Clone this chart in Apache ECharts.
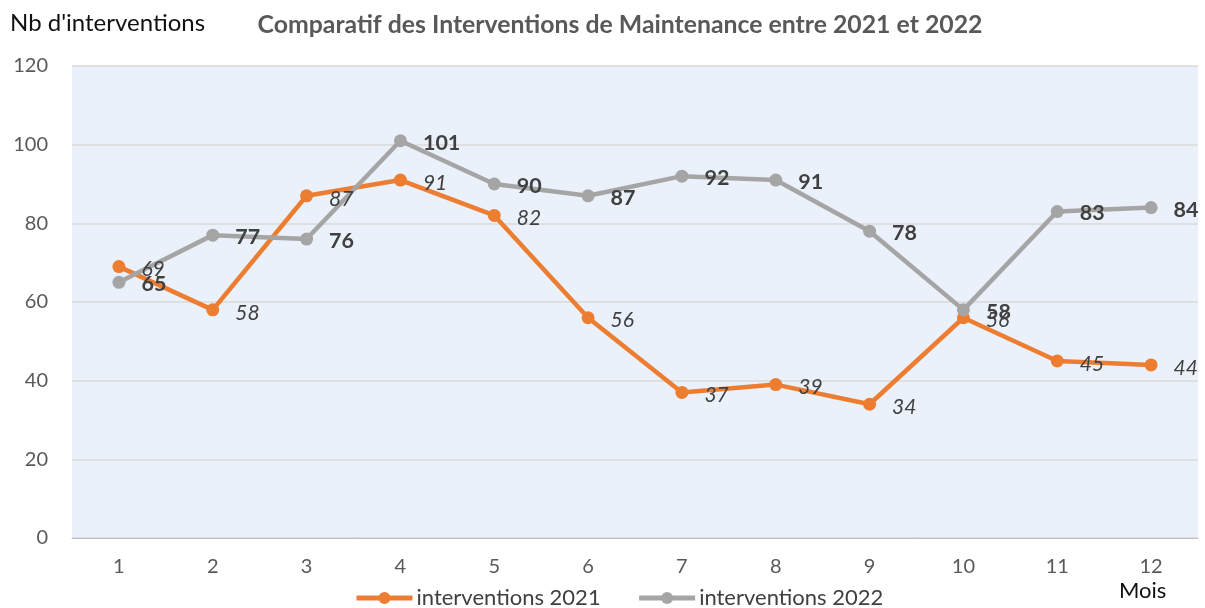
<!DOCTYPE html>
<html>
<head>
<meta charset="utf-8">
<script src="https://cdn.jsdelivr.net/npm/echarts@6/dist/echarts.min.js"></script>
<style>
  html, body { margin: 0; padding: 0; background: #fff; }
  #chart { width: 1205px; height: 608px; }
</style>
</head>
<body>
<div id="chart"></div>
<script>
// Monthly maintenance interventions, 2021 vs 2022
const months = ['1', '2', '3', '4', '5', '6', '7', '8', '9', '10', '11', '12'];
const interventions2021 = [69, 58, 87, 91, 82, 56, 37, 39, 34, 56, 45, 44];
const interventions2022 = [65, 77, 76, 101, 90, 87, 92, 91, 78, 58, 83, 84];
const yTicks = { min: 0, max: 120, interval: 20 };

const FONT = 'Lato, "Open Sans", sans-serif';
const chart = echarts.init(document.getElementById('chart'));

chart.setOption({
  animation: false,
  textStyle: { fontFamily: FONT },
  title: {
    text: 'Comparatif des Interventions de Maintenance entre 2021 et 2022',
    left: 615, top: 8, textAlign: 'center',
    textStyle: { fontFamily: FONT, fontSize: 24.8, fontWeight: 'bold', color: '#595959' }
  },
  graphic: [
    { type: 'text', left: 10, top: 11,
      style: { text: "Nb d'interventions", font: '24px ' + FONT, fill: '#111' } },
    { type: 'text', left: 1119, top: 580,
      style: { text: 'Mois', font: '22px ' + FONT, fill: '#111' } }
  ],
  legend: {
    top: 582, left: 349, itemGap: 36, padding: 5,
    itemWidth: 56, itemHeight: 15,
    lineStyle: { width: 5 },
    textStyle: { fontFamily: FONT, fontSize: 22, color: '#404040', padding: [0, 0, 0, -1] },
    data: ['interventions 2021', 'interventions 2022']
  },
  grid: {
    left: 72, right: 7, top: 66, bottom: 70,
    show: true, backgroundColor: '#EAF1FA', borderWidth: 0
  },
  xAxis: {
    type: 'category', data: months, boundaryGap: true,
    axisLine: { lineStyle: { color: '#bfbfbf', width: 1 } },
    axisTick: { show: false },
    axisLabel: { fontFamily: FONT, fontSize: 20, color: '#595959', margin: 19 }
  },
  yAxis: {
    type: 'value', min: yTicks.min, max: yTicks.max, interval: yTicks.interval,
    axisLine: { show: false }, axisTick: { show: false },
    splitLine: { lineStyle: { color: '#d9d9d9', width: 1.5 } },
    axisLabel: { fontFamily: FONT, fontSize: 20, color: '#595959', margin: 24 }
  },
  series: [
    {
      name: 'interventions 2021', type: 'line', data: interventions2021,
      symbol: 'circle', symbolSize: 13,
      lineStyle: { color: '#ED7D31', width: 4.5 },
      itemStyle: { color: '#ED7D31' },
      label: {
        show: true, position: 'right', distance: 16, offset: [0, 3],
        fontFamily: FONT, fontSize: 21, fontStyle: 'italic', color: '#404040'
      }
    },
    {
      name: 'interventions 2022', type: 'line', data: interventions2022,
      symbol: 'circle', symbolSize: 13,
      lineStyle: { color: '#A5A5A5', width: 4.5 },
      itemStyle: { color: '#A5A5A5' },
      label: {
        show: true, position: 'right', distance: 16, offset: [0, 2],
        fontFamily: FONT, fontSize: 21.5, fontWeight: 'bold', color: '#404040'
      }
    }
  ]
});
</script>
</body>
</html>
